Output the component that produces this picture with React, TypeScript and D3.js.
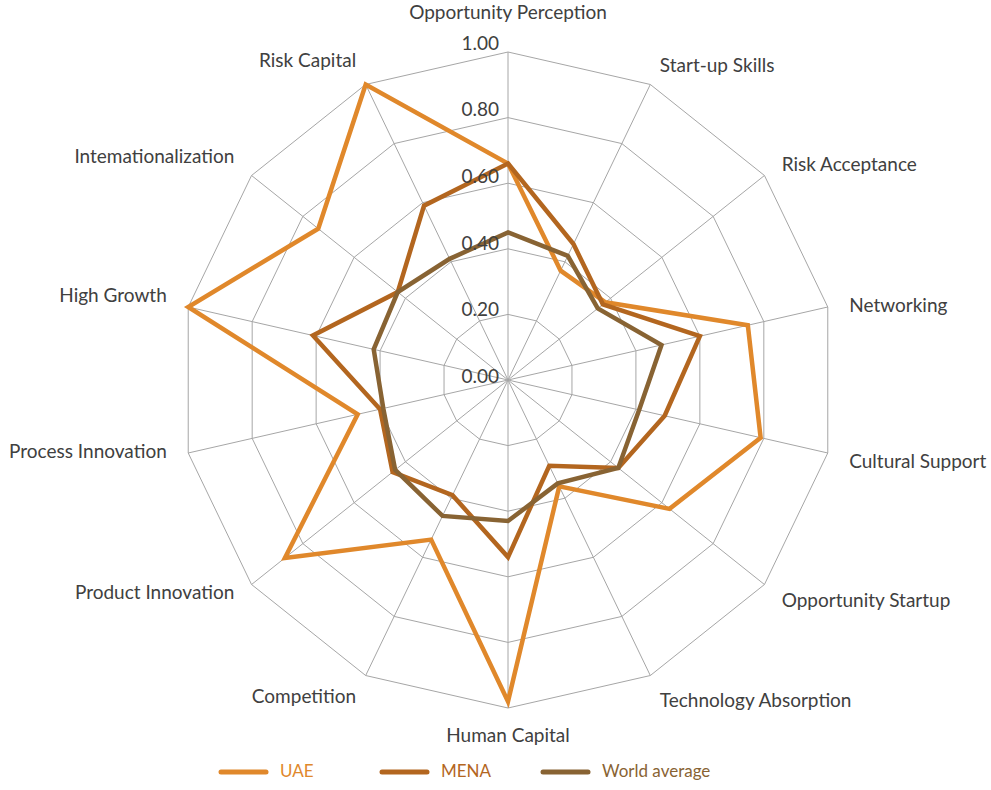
import React from "react";
import * as d3 from "d3";

const axes = [
  "Opportunity Perception",
  "Start-up Skills",
  "Risk Acceptance",
  "Networking",
  "Cultural Support",
  "Opportunity Startup",
  "Technology Absorption",
  "Human Capital",
  "Competition",
  "Product Innovation",
  "Process Innovation",
  "High Growth",
  "Intemationalization",
  "Risk Capital",
];

const uae = [0.66, 0.37, 0.38, 0.75, 0.79, 0.63, 0.36, 0.98, 0.54, 0.87, 0.47, 1.0, 0.74, 1.0];
const mena = [0.66, 0.46, 0.37, 0.6, 0.49, 0.43, 0.29, 0.54, 0.39, 0.45, 0.4, 0.61, 0.43, 0.59];
const world = [0.45, 0.42, 0.35, 0.48, 0.41, 0.43, 0.35, 0.43, 0.46, 0.44, 0.39, 0.42, 0.43, 0.41];

const ticks = [0, 0.2, 0.4, 0.6, 0.8, 1.0];

const seriesNames = ["UAE", "MENA", "World average"];
const seriesColors = ["#E0882B", "#B3661F", "#886333"];

const W = 991;
const H = 790;
const cx = 508;
const cy = 380;
const R = 328;
const FONT = "Lato, 'Open Sans', sans-serif";

export default function App() {
  const r = d3.scaleLinear().domain([0, 1]).range([0, R]);
  const angle = (i: number) => (i * 2 * Math.PI) / axes.length;
  const pt = (i: number, v: number): [number, number] => [
    cx + r(v) * Math.sin(angle(i)),
    cy - r(v) * Math.cos(angle(i)),
  ];
  const line = d3.line<[number, number]>().curve(d3.curveLinearClosed);
  const allSeries = [uae, mena, world];

  return (
    <svg width={W} height={H} style={{ position: "absolute", left: 0, top: 0, background: "#fff" }}>
      {ticks.slice(1).map((t) => (
        <path
          key={"g" + t}
          d={line(axes.map((_, i) => pt(i, t))) || ""}
          fill="none"
          stroke="#a6a6a6"
          strokeWidth={1}
        />
      ))}
      {axes.map((_, i) => {
        const [x, y] = pt(i, 1);
        return <line key={"s" + i} x1={cx} y1={cy} x2={x} y2={y} stroke="#a6a6a6" strokeWidth={1} />;
      })}
      {allSeries.map((s, k) => (
        <path
          key={"ser" + k}
          d={line(s.map((v, i) => pt(i, v))) || ""}
          fill="none"
          stroke={seriesColors[k]}
          strokeWidth={4.5}
          strokeLinejoin="miter"
        />
      ))}
      {ticks.map((t) => (
        <text
          key={"t" + t}
          x={cx - 9}
          y={cy - r(t) * 1.016 - 2}
          textAnchor="end"
          dominantBaseline="middle"
          fontFamily={FONT}
          fontSize={19}
          fill="#404040"
        >
          {t.toFixed(2)}
        </text>
      ))}
      {axes.map((a, i) => {
        const th = angle(i);
        const s = Math.sin(th);
        const c = Math.cos(th);
        const lr = R + 22;
        const extra = c > 0.95 ? -16 : c < -0.95 ? 7 : c < -0.85 ? 5 : 0;
        const x = cx + lr * s;
        const y = cy - lr * c + s * 5 + extra;
        const anchor = s > 0.1 ? "start" : s < -0.1 ? "end" : "middle";
        return (
          <text
            key={"a" + i}
            x={x}
            y={y}
            textAnchor={anchor}
            dominantBaseline="middle"
            fontFamily={FONT}
            fontSize={19}
            fill="#404040"
          >
            {a}
          </text>
        );
      })}
      {seriesNames.map((n, k) => {
        const x0 = 221 + k * 161;
        return (
          <g key={"l" + k}>
            <line
              x1={x0}
              y1={772}
              x2={x0 + 45}
              y2={772}
              stroke={seriesColors[k]}
              strokeWidth={5}
              strokeLinecap="round"
            />
            <text
              x={x0 + 59}
              y={773}
              dominantBaseline="middle"
              fontFamily={FONT}
              fontSize={17}
              fill={seriesColors[k]}
            >
              {n}
            </text>
          </g>
        );
      })}
    </svg>
  );
}
